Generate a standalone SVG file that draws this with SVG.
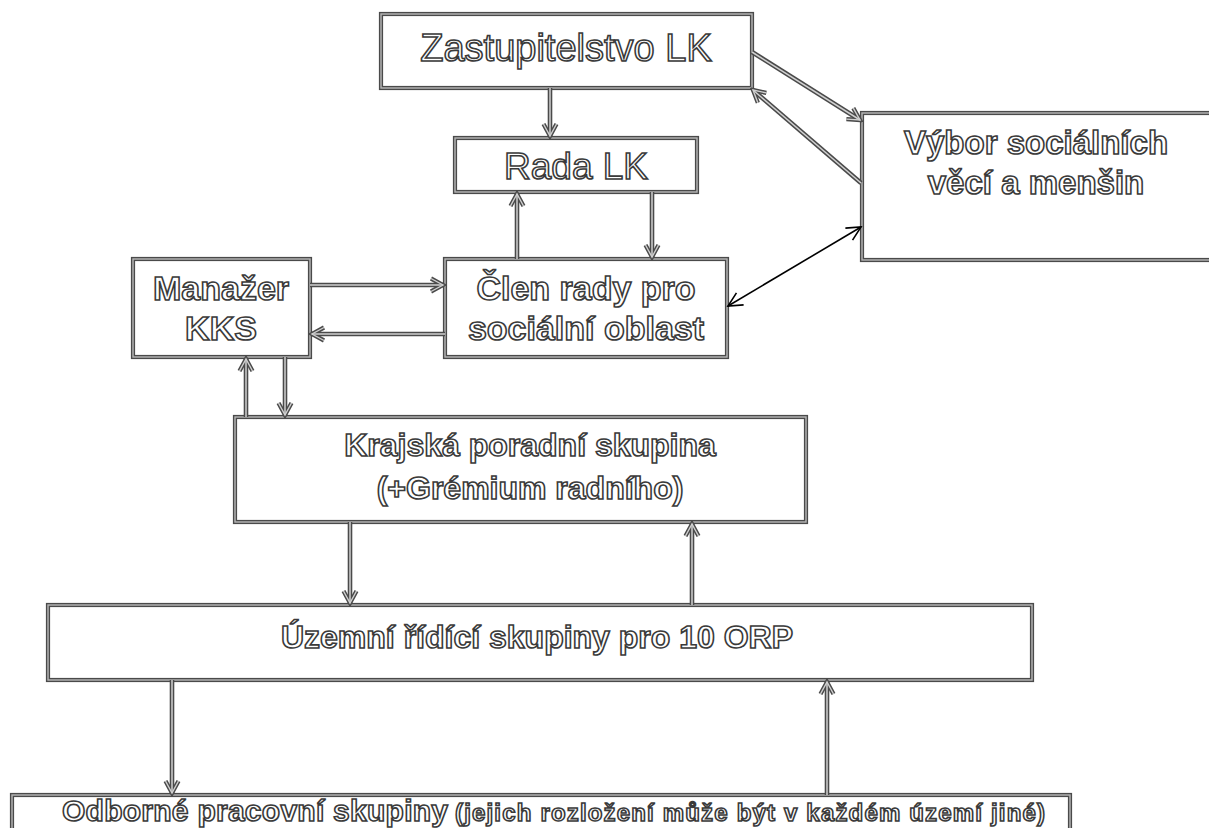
<svg xmlns="http://www.w3.org/2000/svg" width="1209" height="828" viewBox="0 0 1209 828">
<defs>
<style>
.box{fill:#fff;stroke:#4a4a4a;stroke-width:4.2}
.boxhl{fill:none;stroke:#b8b8b8;stroke-width:1.4}
.co{fill:none;stroke:#4a4a4a;stroke-width:4.6}
.ci{fill:none;stroke:#d0d0d0;stroke-width:1.5}
.t{font-family:"Liberation Sans",Arial,sans-serif;fill:#fff;stroke:#3a3a3a;stroke-width:1.6;text-anchor:middle;font-weight:bold}
.r{font-weight:normal}
.s{text-anchor:start}
.blk{fill:none;stroke:#000;stroke-width:1.6}
</style>
<marker id="ao" viewBox="0 0 18 18" markerWidth="18" markerHeight="18" refX="15" refY="9" orient="auto" markerUnits="userSpaceOnUse"><path d="M3,2.5 L15,9 L3,15.5" fill="none" stroke="#4a4a4a" stroke-width="4.3"/></marker>
<marker id="ai" viewBox="0 0 18 18" markerWidth="18" markerHeight="18" refX="15" refY="9" orient="auto" markerUnits="userSpaceOnUse"><path d="M3,2.5 L15,9 L3,15.5" fill="none" stroke="#d0d0d0" stroke-width="1.4"/></marker>
<marker id="ab" viewBox="0 0 20 20" markerWidth="20" markerHeight="20" refX="18" refY="10" orient="auto-start-reverse" markerUnits="userSpaceOnUse"><path d="M4,3 L18,10 L4,17" fill="none" stroke="#000" stroke-width="1.6"/></marker>
</defs>

<g id="zastupitelstvo">
<rect class="box" x="381" y="14" width="371" height="74"/><rect class="boxhl" x="381" y="14" width="371" height="74"/>
<text class="t r" x="566" y="61" font-size="38">Zastupitelstvo LK</text>
</g>
<g id="rada">
<rect class="box" x="455" y="138" width="242" height="54"/><rect class="boxhl" x="455" y="138" width="242" height="54"/>
<text class="t r" x="576" y="179" font-size="37">Rada LK</text>
</g>
<g id="vybor">
<rect class="box" x="862" y="113" width="360" height="147"/><rect class="boxhl" x="862" y="113" width="360" height="147"/>
<text class="t" x="1036" y="154" font-size="33">Výbor sociálních</text>
<text class="t" x="1036" y="194" font-size="33">věcí a menšin</text>
</g>
<g id="manazer">
<rect class="box" x="133" y="259" width="177" height="98"/><rect class="boxhl" x="133" y="259" width="177" height="98"/>
<text class="t" x="221" y="300" font-size="34">Manažer</text>
<text class="t" x="221" y="340" font-size="34">KKS</text>
</g>
<g id="clen">
<rect class="box" x="445" y="259" width="282" height="98"/><rect class="boxhl" x="445" y="259" width="282" height="98"/>
<text class="t" x="586" y="300" font-size="34">Člen rady pro</text>
<text class="t" x="586" y="340" font-size="34">sociální oblast</text>
</g>
<g id="krajska">
<rect class="box" x="235" y="417" width="571" height="105"/><rect class="boxhl" x="235" y="417" width="571" height="105"/>
<text class="t" x="530" y="456" font-size="32">Krajská poradní skupina</text>
<text class="t" x="530" y="499" font-size="32">(+Grémium radního)</text>
</g>
<g id="uzemni">
<rect class="box" x="48" y="605" width="984" height="75"/><rect class="boxhl" x="48" y="605" width="984" height="75"/>
<text class="t" x="537" y="648" font-size="32">Územní řídící skupiny pro 10 ORP</text>
</g>
<g id="odborne">
<rect class="box" x="12" y="795" width="1058" height="60"/><rect class="boxhl" x="12" y="795" width="1058" height="60"/>
<text class="t s" x="62" y="821" font-size="30" textLength="386" lengthAdjust="spacing">Odborné pracovní skupiny</text>
<text class="t s" x="455" y="821" font-size="24" textLength="590" lengthAdjust="spacing">(jejich rozložení může být v každém území jiné)</text>
</g>

<g id="connectors">
<g marker-end="url(#ao)">
<path class="co" d="M550,88 V136"/>
<path class="co" d="M517,259 V194"/>
<path class="co" d="M652,192 V257"/>
<path class="co" d="M752,52 L860,120"/>
<path class="co" d="M861,183 L753,90"/>
<path class="co" d="M310,285 H443"/>
<path class="co" d="M445,334 H312"/>
<path class="co" d="M246,417 V359"/>
<path class="co" d="M285,357 V415"/>
<path class="co" d="M350,522 V603"/>
<path class="co" d="M692,605 V524"/>
<path class="co" d="M172,680 V793"/>
<path class="co" d="M827,795 V682"/>
</g>
<g marker-end="url(#ai)">
<path class="ci" d="M550,88 V136"/>
<path class="ci" d="M517,259 V194"/>
<path class="ci" d="M652,192 V257"/>
<path class="ci" d="M752,52 L860,120"/>
<path class="ci" d="M861,183 L753,90"/>
<path class="ci" d="M310,285 H443"/>
<path class="ci" d="M445,334 H312"/>
<path class="ci" d="M246,417 V359"/>
<path class="ci" d="M285,357 V415"/>
<path class="ci" d="M350,522 V603"/>
<path class="ci" d="M692,605 V524"/>
<path class="ci" d="M172,680 V793"/>
<path class="ci" d="M827,795 V682"/>
</g>
<path class="blk" d="M728,306 L861,227" marker-start="url(#ab)" marker-end="url(#ab)"/>
</g>
</svg>
